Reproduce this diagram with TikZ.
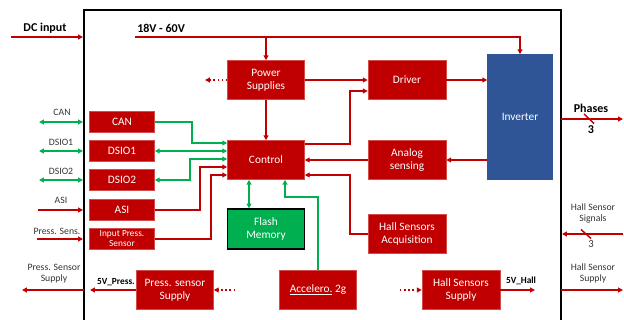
\documentclass[tikz,border=0pt]{standalone}
\usepackage{fontspec}
\setmainfont{Carlito}
\usetikzlibrary{arrows.meta}
\definecolor{dred}{HTML}{C00000}
\definecolor{iblue}{HTML}{2F5597}
\definecolor{fgreen}{HTML}{00B050}
\tikzset{
  blk/.style={fill=dred, draw=dred!70!white, line width=0.4pt, text=white, align=center, font=\fontsize{8.5}{9.5}\selectfont, inner sep=1pt},
  bigbox/.style={blk, minimum width=57.75pt, minimum height=29.25pt},
  smallbox/.style={blk, minimum width=48.75pt, minimum height=15.75pt},
  rl/.style={draw=dred, line width=1.1pt},
  gl/.style={draw=fgreen, line width=1.1pt},
  tip/.style={-{Triangle[length=3.6pt,width=3.6pt]}},
  dtip/.style={{Triangle[length=3.6pt,width=3.6pt]}-{Triangle[length=3.6pt,width=3.6pt]}},
  lbl/.style={font=\fontsize{7.3}{8.3}\selectfont, text=black!80, align=center, inner sep=0pt},
  blbl/.style={font=\bfseries\fontsize{9}{10}\selectfont, text=black, inner sep=0pt}
}
\begin{document}
\begin{tikzpicture}[x=0.75pt,y=-0.75pt]
\useasboundingbox (0,0) rectangle (624,320);
% frame
\draw[black, line width=1.1pt] (84,330) -- (84,10) -- (561,10) -- (561,330);

% blocks
\node[bigbox] (ps) at (266,80) {Power\\Supplies};
\node[bigbox, minimum width=58.5pt] (drv) at (407,80) {Driver};
\node[blk, fill=iblue, draw=iblue, minimum width=48.75pt, minimum height=93.75pt] (inv) at (520,117) {};
\node[text=white, font=\fontsize{8.5}{9.5}\selectfont] (invt) at (520,117) {Inverter};
\node[bigbox] (ctl) at (266,160) {Control};
\node[bigbox, minimum width=58.5pt] (ana) at (407,160) {Analog\\sensing};
\node[bigbox, minimum width=58.5pt] (hall) at (407,234) {Hall Sensors\\Acquisition};
\node[bigbox, fill=fgreen, draw=black, line width=1pt, minimum height=30pt] (flash) at (266,229) {Flash\\Memory};
\node[bigbox] (acc) at (318,290) {\underline{Accelero.} 2g};
\node[bigbox] (pss) at (175,290) {Press. sensor\\Supply};
\node[bigbox, minimum width=58.5pt] (hss) at (461,290) {Hall Sensors\\Supply};
\node[smallbox] (can) at (122,122) {CAN};
\node[smallbox] (dsio1) at (122,151) {DSIO1};
\node[smallbox] (dsio2) at (122,180) {DSIO2};
\node[smallbox] (asi) at (122,210) {ASI};
\node[smallbox, font=\fontsize{7}{7.5}\selectfont] (ips) at (122,239) {Input Press.\\Sensor};

% texts
\node[blbl] (dct) at (45,28) {DC input};
\node[blbl, anchor=west] (vt) at (137,28) {18V - 60V};
\node[blbl] (pht) at (591,108) {Phases};
\node[blbl] (ph3) at (591,130) {3};
\node[lbl] (hsst) at (593,213) {Hall Sensor\\Signals};
\node[lbl, font=\fontsize{8}{9}\selectfont] (hss3) at (591,244) {3};
\node[lbl] (hsupt) at (593,273) {Hall Sensor\\Supply};
\node[lbl] (psupt) at (54,274) {Press. Sensor\\Supply};
\node[font=\bfseries\fontsize{7}{8}\selectfont, anchor=east, inner sep=0pt] (v5p) at (135,282) {5V\_Press.};
\node[font=\bfseries\fontsize{7}{8}\selectfont, inner sep=0pt] (v5h) at (521,281) {5V\_Hall};
\node[lbl] (cant) at (62,112) {CAN};
\node[lbl] (d1t) at (61,142) {DSIO1};
\node[lbl] (d2t) at (61,171) {DSIO2};
\node[lbl] (asit) at (61,200) {ASI};
\node[lbl] (pst) at (57,231) {Press. Sens.};

% power
\coordinate (dcs) at (11,37);
\coordinate (dce) at (83,37);
\draw[rl, tip] (dcs) -- (dce);
\coordinate (vs) at (135,37);
\draw[rl, tip] (vs) -| (inv.north);
\draw[rl, tip] (266,37) -- (ps.north);
\draw[rl, tip] (ps.south) -- (ctl.north);
\draw[rl, tip] (ps.east) -- (drv.west);
\draw[rl, tip] (drv.east) -- (drv.east -| inv.west);
\coordinate (psd) at (205,80);
\draw[rl, dotted, tip] (ps.west) -- (psd);

% control right side
\draw[rl, tip] (ctl.east |- 0,144) -- (350,144) -- (350,91) -- (drv.west |- 0,91);
\draw[rl, tip] (inv.west |- 0,160) -- (ana.east |- 0,160);
\draw[rl, tip] (ana.west |- 0,160) -- (ctl.east |- 0,160);
\draw[rl, tip] (hall.west |- 0,234) -- (350,234) -- (350,175) -- (ctl.east |- 0,175);

% left blocks to control
\draw[gl, tip] (can.east |- 0,122) -- (192,122) -- (192,143) -- (ctl.west |- 0,143);
\draw[gl, dtip] (dsio1.east |- 0,151) -- (ctl.west |- 0,151);
\draw[gl, dtip] (dsio2.east |- 0,180) -- (190,180) -- (190,159) -- (ctl.west |- 0,159);
\draw[rl, tip] (asi.east |- 0,210) -- (200,210) -- (200,167) -- (ctl.west |- 0,167);
\draw[rl, tip] (ips.east |- 0,239) -- (211,239) -- (211,175) -- (ctl.west |- 0,175);

% flash and accelero
\draw[gl, dtip] (ctl.south -| 249,0) -- (flash.north -| 249,0);
\draw[gl, tip] (acc.north -| 318,0) -- (318,197) -- (285,197) -- (ctl.south -| 285,0);

% external left
\coordinate (canx) at (39,122);
\draw[gl, dtip] (canx) -- (83,122);
\coordinate (d1x) at (39,151);
\draw[gl, dtip] (d1x) -- (83,151);
\coordinate (d2x) at (39,180);
\draw[gl, dtip] (d2x) -- (83,180);
\coordinate (asix) at (38,210);
\draw[rl, tip] (asix) -- (83,210);
\coordinate (psx) at (37,239);
\draw[rl, tip] (psx) -- (83,239);

% supplies
\coordinate (pssl) at (90,290);
\draw[rl, tip] (pss.west) -- (pssl);
\coordinate (pssd) at (235,290);
\draw[rl, dotted, tip] (pssd) -- (pss.east);
\coordinate (pssx) at (22,290);
\draw[rl, tip] (84,290) -- (pssx);
\coordinate (hssd) at (400,290);
\draw[rl, dotted, tip] (hssd) -- (hss.west);
\coordinate (hssr) at (535,290);
\draw[rl, tip] (hss.east) -- (hssr);
\coordinate (hssx) at (623,290);
\draw[rl, tip] (561,290) -- (hssx);

% phases and hall signals
\coordinate (phx) at (623,119);
\draw[rl, tip] (561,119) -- (phx);
\draw[rl] (584,114) -- (594,123.5);
\coordinate (hsx) at (623,234);
\draw[rl, tip] (hsx) -- (562,234);
\draw[rl] (581,229.5) -- (591,238.5);
\end{tikzpicture}
\end{document}
